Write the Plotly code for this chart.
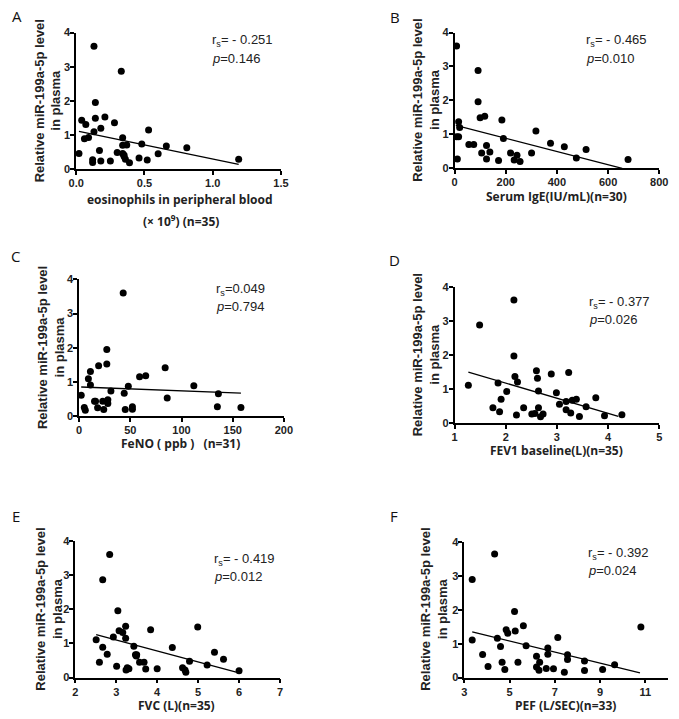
import plotly.graph_objects as go

W, H = 679, 719

# ---------------- data ----------------
# Panel A: eosinophils
xA = [0.02, 0.04, 0.07, 0.06, 0.09, 0.13, 0.14, 0.14, 0.13, 0.12, 0.12, 0.17, 0.18, 0.18,
      0.21, 0.25, 0.28, 0.30, 0.33, 0.34, 0.34, 0.37, 0.34, 0.35, 0.36, 0.39, 0.46, 0.48,
      0.52, 0.53, 0.60, 0.66, 0.81, 1.19, 0.35]
yA = [0.46, 1.43, 1.31, 0.89, 0.93, 3.60, 1.95, 1.49, 1.10, 0.28, 0.20, 0.55, 1.20, 0.24,
      1.53, 0.24, 1.36, 0.49, 2.87, 0.92, 0.70, 0.71, 0.46, 0.38, 0.29, 0.19, 0.33, 0.74,
      0.27, 1.15, 0.45, 0.68, 0.63, 0.29, 0.42]
fitA_x = [0.02, 1.19]
fitA_coef = [-0.83, 1.127]

# Panel B: Serum IgE
xB = [8, 11, 16, 16, 8, 20, 56, 75, 92, 92, 100, 118, 106, 125, 125, 138, 172, 185, 191,
      219, 233, 244, 256, 301, 318, 375, 429, 476, 514, 678]
yB = [3.60, 0.27, 1.37, 0.93, 0.93, 1.20, 0.70, 0.70, 2.88, 1.96, 1.49, 1.53, 0.45, 0.67,
      0.27, 0.48, 0.23, 1.42, 0.88, 0.45, 0.24, 0.38, 0.20, 0.45, 1.10, 0.74, 0.63, 0.30,
      0.55, 0.26]
fitB_x = [5, 655]
fitB_coef = [-0.00194, 1.27]

# Panel C: FeNO
xC = [2, 5, 6, 9, 11, 11, 15, 16, 18, 19, 23, 24, 27, 27, 28, 28, 31, 43, 44, 45, 48, 52,
      52, 59, 65, 84, 86, 112, 136, 135, 158]
yC = [0.61, 0.25, 0.17, 1.09, 1.30, 0.91, 0.43, 0.43, 0.24, 1.47, 0.43, 0.19, 1.95, 1.52,
      0.48, 0.37, 0.73, 3.60, 0.67, 0.19, 0.87, 0.27, 0.20, 1.15, 1.18, 1.41, 0.53, 0.89,
      0.65, 0.27, 0.25]
fitC_x = [2, 158]
fitC_coef = [-0.00115, 0.852]

# Panel D: FEV1 baseline
xD = [1.27, 1.49, 1.75, 1.85, 1.91, 1.88, 2.02, 2.16, 2.16, 2.18, 2.23, 2.21, 2.35, 2.51,
      2.57, 2.60, 2.62, 2.64, 2.64, 2.68, 2.73, 2.89, 2.99, 3.05, 3.18, 3.18, 3.23, 3.27,
      3.30, 3.38, 3.57, 3.44, 3.76, 3.93, 4.27]
yD = [1.11, 2.89, 0.45, 1.18, 0.70, 0.33, 0.93, 3.62, 1.97, 1.37, 1.21, 0.23, 0.45, 0.26,
      0.28, 1.54, 1.32, 0.94, 0.45, 0.18, 0.26, 1.44, 0.89, 0.55, 0.63, 0.39, 1.49, 0.29,
      0.67, 0.70, 0.48, 0.19, 0.74, 0.21, 0.24]
fitD_x = [1.27, 4.20]
fitD_coef = [-0.447, 2.068]

# Panel E: FVC
xE = [2.51, 2.59, 2.67, 2.67, 2.78, 2.84, 2.93, 3.01, 3.04, 3.07, 3.16, 3.23, 3.23, 3.24,
      3.27, 3.31, 3.43, 3.47, 3.49, 3.50, 3.57, 3.68, 3.72, 3.84, 4.00, 4.37, 4.62, 4.68,
      4.70, 4.79, 4.99, 5.22, 5.40, 5.62, 6.00]
yE = [1.11, 0.45, 2.86, 0.89, 0.68, 3.60, 1.19, 0.33, 1.96, 1.37, 1.32, 1.50, 1.15, 0.22,
      0.29, 0.26, 0.92, 0.67, 0.63, 0.67, 0.45, 0.45, 0.25, 1.40, 0.26, 0.88, 0.29, 0.22,
      0.16, 0.48, 1.48, 0.37, 0.74, 0.54, 0.20]
fitE_x = [2.51, 5.93]
fitE_coef = [-0.322, 2.068]

# Panel F: PEF
xF = [3.35, 3.35, 3.81, 4.05, 4.34, 4.46, 4.60, 4.67, 4.79, 4.85, 4.92, 5.22, 5.25, 5.37,
      5.61, 5.73, 6.19, 6.19, 6.30, 6.33, 6.62, 6.69, 6.69, 6.94, 7.13, 7.42, 7.56, 7.56,
      8.31, 8.31, 9.11, 9.64, 10.80]
yF = [2.89, 1.11, 0.68, 0.33, 3.64, 1.16, 0.92, 0.45, 0.24, 1.41, 1.31, 1.95, 1.37, 0.45,
      1.53, 0.94, 0.63, 0.31, 0.22, 0.45, 0.27, 0.87, 0.69, 0.26, 1.18, 0.16, 0.67, 0.53,
      0.49, 0.21, 0.24, 0.38, 1.49]
fitF_x = [3.35, 10.76]
fitF_coef = [-0.163, 1.895]

letters = ["A", "B", "C", "D", "E", "F"]
rs_labels = [" - 0.251", " - 0.465", "0.049", " - 0.377", " - 0.419", " - 0.392"]
p_labels = ["0.146", "0.010", "0.794", "0.026", "0.012", "0.024"]
x_titles = [["eosinophils in peripheral blood", "(× 10<sup>9</sup>) (n=35)"],
            ["Serum IgE(IU/mL)(n=30)"],
            ["FeNO ( ppb )   (n=31)"],
            ["FEV1 baseline(L)(n=35)"],
            ["FVC (L)(n=35)"],
            ["PEF (L/SEC)(n=33)"]]
y_title = "Relative miR-199a-5p level<br>in plasma"
x_ranges = [[0, 1.5], [0, 800], [0, 200], [1, 5], [2, 7], [3, 12]]
x_tickvals = [[0, 0.5, 1.0, 1.5], [0, 200, 400, 600, 800], [0, 50, 100, 150, 200],
              [1, 2, 3, 4, 5], [2, 3, 4, 5, 6, 7], [3, 5, 7, 9, 11]]
x_ticktext = [["0.0", "0.5", "1.0", "1.5"], None, None, None, None, None]
y_ticks = [0, 1, 2, 3, 4]

xs = [xA, xB, xC, xD, xE, xF]
ys = [yA, yB, yC, yD, yE, yF]
fit_xs = [fitA_x, fitB_x, fitC_x, fitD_x, fitE_x, fitF_x]
fit_coefs = [fitA_coef, fitB_coef, fitC_coef, fitD_coef, fitE_coef, fitF_coef]

# ---------------- layout geometry (pixels) ----------------
boxes = [(70, 280, 27, 166), (458, 668, 27, 165),
         (73, 283, 278, 417), (458, 668, 286, 424),
         (69, 279, 544, 683), (468, 677, 545, 683)]
letter_pos = [(9, 10), (397, 11), (8, 254), (396, 258), (8, 519), (396, 519)]
stat_pos = [(207, 35, 53), (591, 35, 53), (211, 288, 306), (594, 302, 319),
            (209, 563, 580), (593, 557, 574)]
xtitle_pos = [[(176, 197), (177, 219)], [(563, 194)], [(177, 445)], [(563, 452)],
              [(173, 711)], [(572, 711)]]
ytitle_pos = [(41, 96), (429, 96), (44, 347), (429, 355), (42, 613), (437, 614)]


def px(v):
    return v / W


def py(v):
    return 1 - v / H


fig = go.Figure()
annotations = []
FONT = "Liberation Sans, Arial, sans-serif"
TFONT = "Open Sans, Liberation Sans, sans-serif"

for i in range(6):
    ax = "" if i == 0 else str(i + 1)
    l, r, t, b = boxes[i]
    fig.add_trace(go.Scatter(
        x=xs[i], y=ys[i], mode="markers",
        marker=dict(color="black", size=7),
        xaxis="x" + ax, yaxis="y" + ax, cliponaxis=False, showlegend=False))
    fx = fit_xs[i]
    m, c = fit_coefs[i]
    fig.add_trace(go.Scatter(
        x=fx, y=[m * v + c for v in fx], mode="lines",
        line=dict(color="black", width=1.3),
        xaxis="x" + ax, yaxis="y" + ax, cliponaxis=False, showlegend=False))

    common = dict(showgrid=False, zeroline=False, showline=True, linecolor="black",
                  linewidth=1.6, ticks="outside", ticklen=4, tickwidth=1.6,
                  tickcolor="black",
                  tickfont=dict(family=FONT, size=11, color="#222", weight="bold"))
    xa = dict(domain=[px(l), px(r)], range=x_ranges[i], anchor="y" + ax,
              tickvals=x_tickvals[i], ticklabelstandoff=-1, **common)
    if x_ticktext[i]:
        xa["ticktext"] = x_ticktext[i]
    ya = dict(domain=[py(b), py(t)], range=[0, 4], anchor="x" + ax,
              tickvals=y_ticks, ticklabelstandoff=-2, **common)
    fig.update_layout({"xaxis" + ax: xa, "yaxis" + ax: ya})

    lx, ly = letter_pos[i]
    annotations.append(dict(text=letters[i], x=px(lx), y=py(ly), xref="paper", yref="paper",
                            showarrow=False, xanchor="center", yanchor="middle",
                            font=dict(family=TFONT, size=15, color="#111")))
    sx, sy1, sy2 = stat_pos[i]
    annotations.append(dict(text="r<sub>s</sub>=" + rs_labels[i], x=px(sx), y=py(sy1),
                            xref="paper", yref="paper", showarrow=False,
                            xanchor="left", yanchor="middle",
                            font=dict(family=FONT, size=13, color="#222")))
    annotations.append(dict(text="<i>p</i>=" + p_labels[i], x=px(sx), y=py(sy2),
                            xref="paper", yref="paper", showarrow=False,
                            xanchor="left", yanchor="middle",
                            font=dict(family=FONT, size=13, color="#222")))
    for txt, (tx, ty) in zip(x_titles[i], xtitle_pos[i]):
        annotations.append(dict(text=txt, x=px(tx), y=py(ty), xref="paper", yref="paper",
                                showarrow=False, xanchor="center", yanchor="middle",
                                font=dict(family=TFONT, size=12, color="#222",
                                          weight="bold")))
    yx, yy = ytitle_pos[i]
    annotations.append(dict(text=y_title, x=px(yx), y=py(yy), xref="paper", yref="paper",
                            showarrow=False, xanchor="center", yanchor="middle",
                            textangle=-90,
                            font=dict(family=FONT, size=13, color="#222", weight="bold")))

fig.update_layout(
    width=W, height=H, margin=dict(l=0, r=0, t=0, b=0),
    paper_bgcolor="white", plot_bgcolor="white",
    annotations=annotations,
)

fig.write_html("out.html", config={"displayModeBar": False},
               post_script="document.body.style.margin='0px';document.body.style.padding='0px';")
